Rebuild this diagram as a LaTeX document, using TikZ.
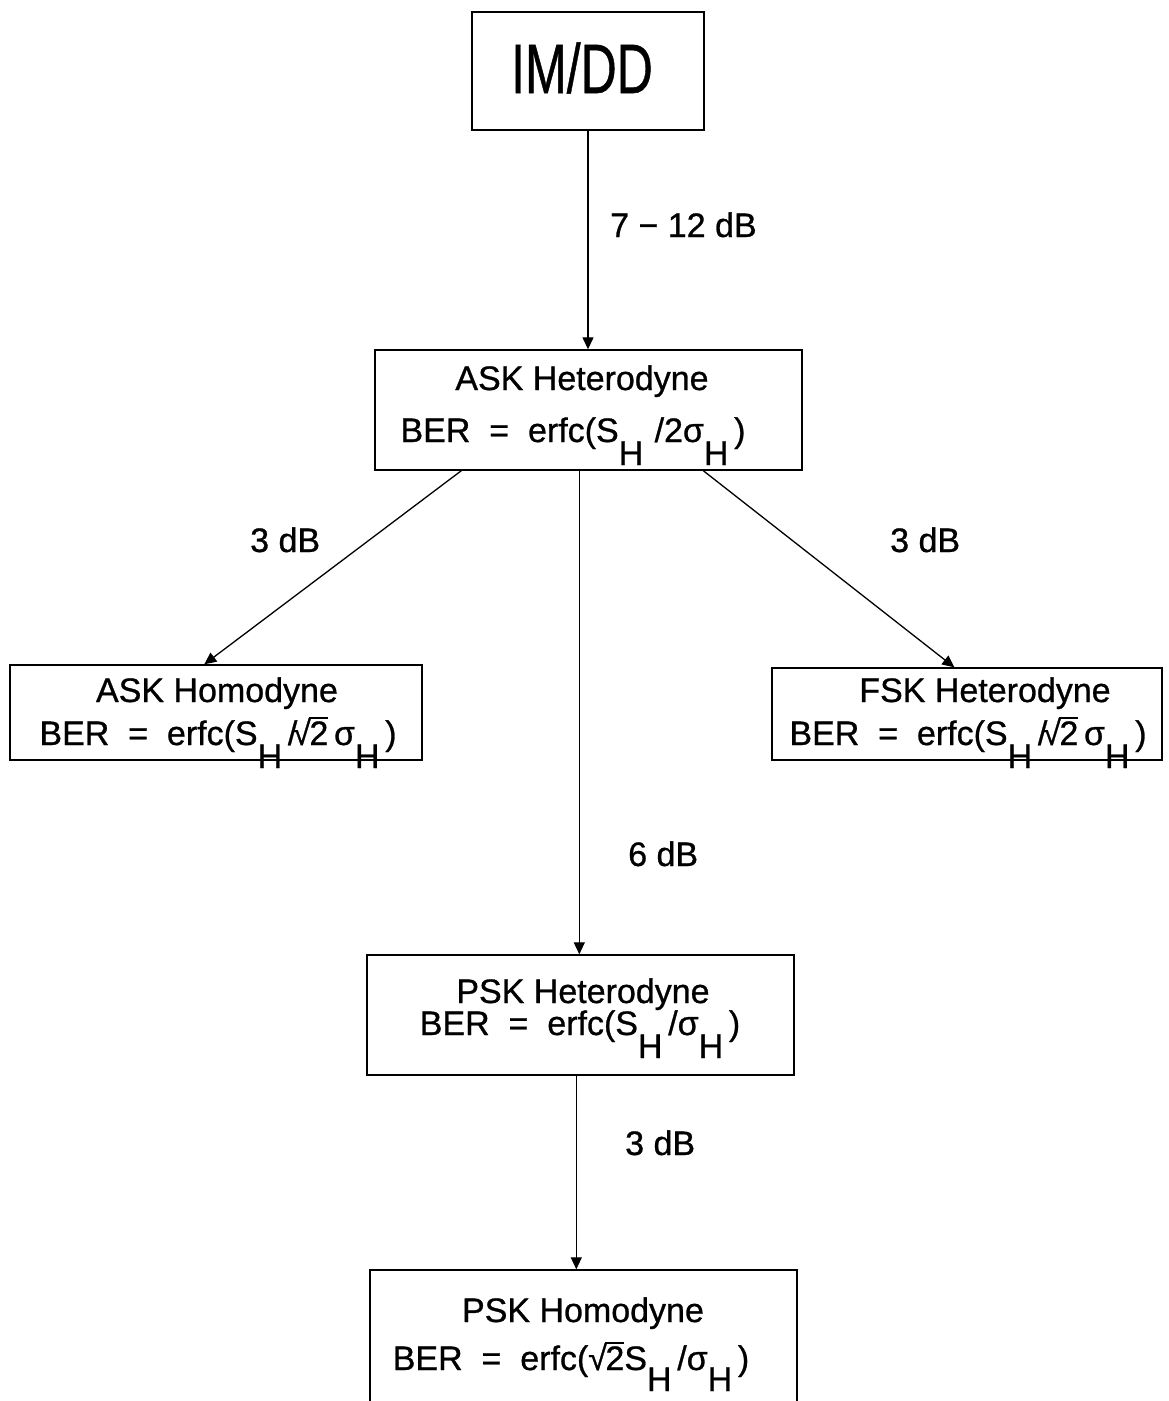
\documentclass[tikz,border=0pt]{standalone}
\usepackage{fontspec}
\setmainfont[FakeBold=0.8]{Liberation Sans}
\usetikzlibrary{arrows.meta,calc}
\newcommand\lsub[1]{\raisebox{-23pt}[0pt][0pt]{#1}}
\newcommand\rtwo{√\kern-1.5pt\vbox{\hrule height 1.6pt\kern 2.5pt\hbox{2}}}
\begin{document}
\begin{tikzpicture}[x=1pt,y=-1pt,
  box/.style={draw,line width=1.4pt,inner sep=0pt},
  btxt/.style={font=\fontsize{34}{40}\selectfont,anchor=base,inner sep=0pt},
  lbl/.style={font=\fontsize{34}{40}\selectfont,anchor=base west,inner sep=0pt},
  conn/.style={line width=1.3pt,-{Triangle[length=12pt,width=11pt]}}]
\clip (0,0) rectangle (1168,1401);
\fill[white] (0,0) rectangle (1168,1401);
% boxes
\node[box,minimum width=232pt,minimum height=118pt] (imdd) at (588,71) {};
\node[box,minimum width=427pt,minimum height=120pt] (askhet) at (588.5,410) {};
\node[box,minimum width=412pt,minimum height=95pt] (askhom) at (216,712.5) {};
\node[box,minimum width=390pt,minimum height=92pt] (fsk) at (967,714) {};
\node[box,minimum width=427pt,minimum height=120pt] (pskhet) at (580.5,1015) {};
\node[box,minimum width=427pt,minimum height=180pt] (pskhom) at (583.5,1360) {};
% texts
\node[btxt,font=\fontsize{50}{60}\selectfont] (t0) at (582,93) {\scalebox{1}[1.4]{IM/DD}};
\node[btxt] (t1a) at (582,390) {ASK Heterodyne};
\node[btxt] (t1b) at (573,442) {BER\ \ =\ \ erfc(S\lsub{H}\,\,/2σ\lsub{H}\,)};
\node[btxt] (t2a) at (217,702) {ASK Homodyne};
\node[btxt] (t2b) at (218,745) {BER\ \ =\ \ erfc(S\lsub{H}\,/\kern-5pt\rtwo\,σ\lsub{H}\,)};
\node[btxt] (t3a) at (985,702) {FSK Heterodyne};
\node[btxt] (t3b) at (968,745) {BER\ \ =\ \ erfc(S\lsub{H}\,/\kern-5pt\rtwo\,σ\lsub{H}\,)};
\node[btxt] (t4a) at (583,1003) {PSK Heterodyne};
\node[btxt] (t4b) at (580,1035) {BER\ \ =\ \ erfc(S\lsub{H}\,/σ\lsub{H}\,)};
\node[btxt] (t5a) at (583,1322) {PSK Homodyne};
\node[btxt] (t5b) at (571,1370) {BER\ \ =\ \ erfc(\rtwo S\raisebox{-21pt}[0pt][0pt]{H}\,/σ\raisebox{-21pt}[0pt][0pt]{H}\,)};
% connectors
\coordinate (a0) at ($(askhet.south west)+(87,0)$);
\coordinate (a1) at ($(askhom.north west)+(195,0)$);
\coordinate (b0) at ($(askhet.south west)+(329,0)$);
\coordinate (b1) at ($(fsk.north west)+(183,0)$);
\coordinate (c0) at ($(askhet.south west)+(205,0)$);
\draw[conn] (imdd.south) -- (imdd.south |- askhet.north);
\draw[conn] (a0) -- (a1);
\draw[conn] (b0) -- (b1);
\draw[conn] (c0) -- (c0 |- pskhet.north);
\coordinate (d0) at ($(pskhet.south west)+(210,0)$);
\draw[conn] (d0) -- (d0 |- pskhom.north);
% labels
\node[lbl] (l1) at (610,237) {7 − 12 dB};
\node[lbl] (l2) at (250,552) {3 dB};
\node[lbl] (l3) at (890,552) {3 dB};
\node[lbl] (l4) at (628,866) {6 dB};
\node[lbl] (l5) at (625,1155) {3 dB};
\end{tikzpicture}
\end{document}
